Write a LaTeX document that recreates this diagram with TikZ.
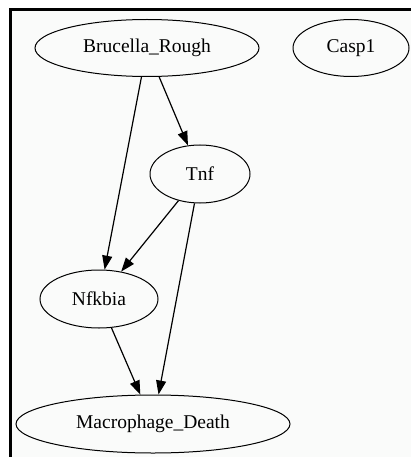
\documentclass[tikz,border=0pt]{standalone}
\usepackage{fontspec}
\setmainfont{Liberation Serif}
\usetikzlibrary{shapes, arrows.meta}
\definecolor{paper}{HTML}{FAFBFA}

\tikzset{
    gene/.style={ellipse, draw, line width=1pt, inner sep=0pt, font=\fontsize{19.5}{22}\selectfont},
    link/.style={line width=1.2pt, -{Triangle[length=14pt, width=10pt]}}
}

\begin{document}
\begin{tikzpicture}[x=1pt, y=-1pt]
    \useasboundingbox (0,0) rectangle (411,457);
    % Frame of the panel
    \fill[paper] (10,10) rectangle (411,457);
    \draw[line width=3pt] (10,457) -- (10,10) -- (411,10);

    % Genes
    \node[gene, minimum width=224pt, minimum height=57pt] (brucella) at (147,48) {Brucella\_Rough};
    \node[gene, minimum width=116pt, minimum height=57pt] (casp) at (351,48) {Casp1};
    \node[gene, minimum width=100pt, minimum height=58pt] (tnf) at (200,174) {Tnf};
    \node[gene, minimum width=118pt, minimum height=58pt] (nfkbia) at (99,299) {Nfkbia};
    \node[gene, minimum width=274pt, minimum height=58pt] (death) at (153,424) {Macrophage\_Death};

    % Influences
    \draw[link] (brucella) -- (tnf);
    \draw[link] (brucella) -- (nfkbia);
    \draw[link] (tnf) -- (nfkbia);
    \draw[link] (tnf) -- (death);
    \draw[link] (nfkbia) -- (death);
\end{tikzpicture}
\end{document}
